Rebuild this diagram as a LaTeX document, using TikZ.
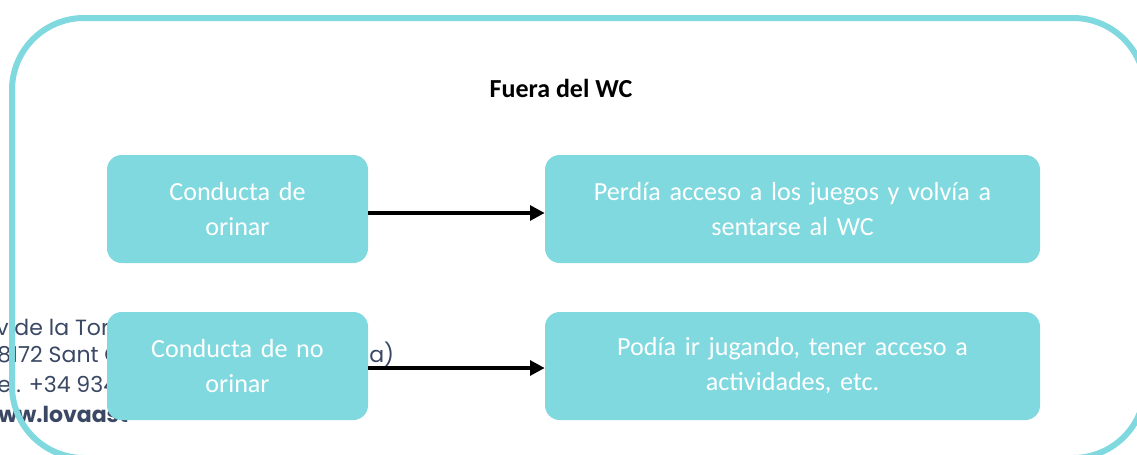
\documentclass[tikz,border=0pt]{standalone}
\usepackage{fontspec}
\setmainfont{Carlito}
\newfontfamily\footfont{Poppins}
\usetikzlibrary{arrows.meta}
\definecolor{teal1}{RGB}{128,217,223}
\definecolor{footc}{RGB}{58,72,100}
\tikzset{
  box/.style={fill=teal1, rounded corners=11pt, minimum height=81pt, inner sep=0pt,
    align=center, text=white, font=\fontsize{19.6}{26.25}\selectfont},
  smallbox/.style={box, minimum width=195.75pt, text width=190pt},
  widebox/.style={box, minimum width=371.25pt, text width=360pt},
  conn/.style={line width=3pt, -{Triangle[length=11pt,width=11pt]}},
  foot/.style={anchor=base west, text=footc, inner sep=0pt, font=\footfont\fontsize{16.5}{20}\selectfont},
}
\begin{document}
\begin{tikzpicture}[x=0.75pt,y=-0.75pt]
\useasboundingbox (0,0) rectangle (1137,454);
% background footer text (partly hidden)
\node[foot] (f1) at (-4,335) {v de la Tor};
\node[foot] (f2) at (-3,362) {8172 Sant C};
\node[foot] (f3) at (-3,392) {el. +34 934};
\node[foot, font=\footfont\bfseries\fontsize{16.5}{20}\selectfont] (f4) at (-2,422) {ww.lovaast};
\node[foot] (f5) at (369,362) {a)};
% frame
\draw[teal1, line width=4.5pt, rounded corners=54pt] (12,18) rectangle (1145,458);
% title
\node[font=\bfseries\fontsize{19.5}{24}\selectfont] (title) at (561,88) {Fuera del WC};
% boxes
\node[smallbox] (b1) at (237.5,209) {Conducta de\\orinar};
\node[widebox] (b2) at (792.5,209) {Perdía acceso a los juegos y volvía a\\sentarse al WC};
\node[smallbox] (b3) at (237.5,366) {Conducta de no\\orinar};
\node[widebox] (b4) at (792.5,366) {Podía ir jugando, tener acceso a\\actividades, etc.};
% arrows
\draw[conn] ([yshift=-3pt]b1.east) -- ([yshift=-3pt]b2.west);
\draw[conn] ([yshift=-1.5pt]b3.east) -- ([yshift=-1.5pt]b4.west);
\end{tikzpicture}
\end{document}
